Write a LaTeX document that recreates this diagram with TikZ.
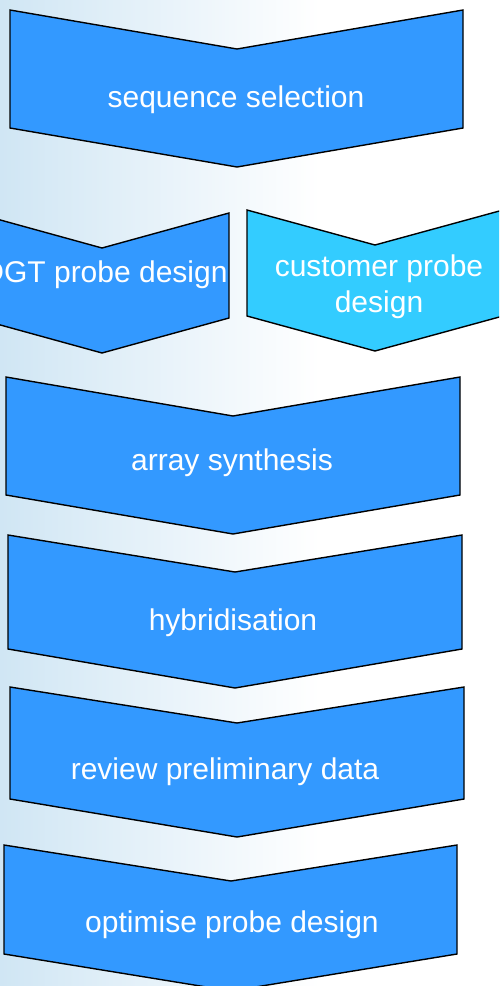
\documentclass[tikz,border=0pt]{standalone}
\usepackage{fontspec}
\setmainfont{Liberation Sans}
\definecolor{chevblue}{RGB}{51,153,255}
\definecolor{chevcyan}{RGB}{51,204,255}
\definecolor{bgblue}{RGB}{208,230,244}
\begin{document}
\begin{tikzpicture}[x=0.5pt,y=-0.5pt,
  chev/.style={draw=black,line width=0.7pt,line join=miter},
  lbl/.style={text=white,font=\fontsize{15}{18}\selectfont,inner sep=0pt,anchor=base,align=center}]
\useasboundingbox (0,0) rectangle (499,986);
\clip (0,0) rectangle (499,986);
% background
\fill[white] (0,0) rectangle (499,986);
\shade[left color=bgblue,right color=white] (0,0) rectangle (320,986);
% 1 sequence selection
\draw[chev,fill=chevblue] (10,10) -- (237,49) -- (463,10) -- (463,128) -- (237,167) -- (10,128) -- cycle;
\node[lbl] (seq) at (236,107) {sequence selection};
% 2 DGT probe design
\draw[chev,fill=chevblue] (-25,213) -- (102,248) -- (229,213) -- (229,318) -- (102,353) -- (-25,318) -- cycle;
\node[lbl] (dgt) at (105,282) {DGT probe design};
% 3 customer probe design
\draw[chev,fill=chevcyan] (247,210) -- (375,245) -- (503,210) -- (503,316) -- (375,351) -- (247,316) -- cycle;
\node[lbl] (cust1) at (379,276) {customer probe};
\node[lbl] (cust2) at (379,312) {design};
% 4 array synthesis
\draw[chev,fill=chevblue] (6,377) -- (233,416) -- (460,377) -- (460,495) -- (233,534) -- (6,495) -- cycle;
\node[lbl] (arr) at (232,470) {array synthesis};
% 5 hybridisation
\draw[chev,fill=chevblue] (8,535) -- (235,572) -- (462,535) -- (462,649) -- (235,688) -- (8,649) -- cycle;
\node[lbl] (hyb) at (233,630) {hybridisation};
% 6 review preliminary data
\draw[chev,fill=chevblue] (10,687) -- (237,723) -- (464,687) -- (464,799) -- (237,837) -- (10,799) -- cycle;
\node[lbl] (rev) at (225,779) {review preliminary data};
% 7 optimise probe design
\draw[chev,fill=chevblue] (4,845) -- (231,881) -- (457,845) -- (457,954) -- (231,991) -- (4,954) -- cycle;
\node[lbl] (opt) at (232,932) {optimise probe design};
\end{tikzpicture}
\end{document}
